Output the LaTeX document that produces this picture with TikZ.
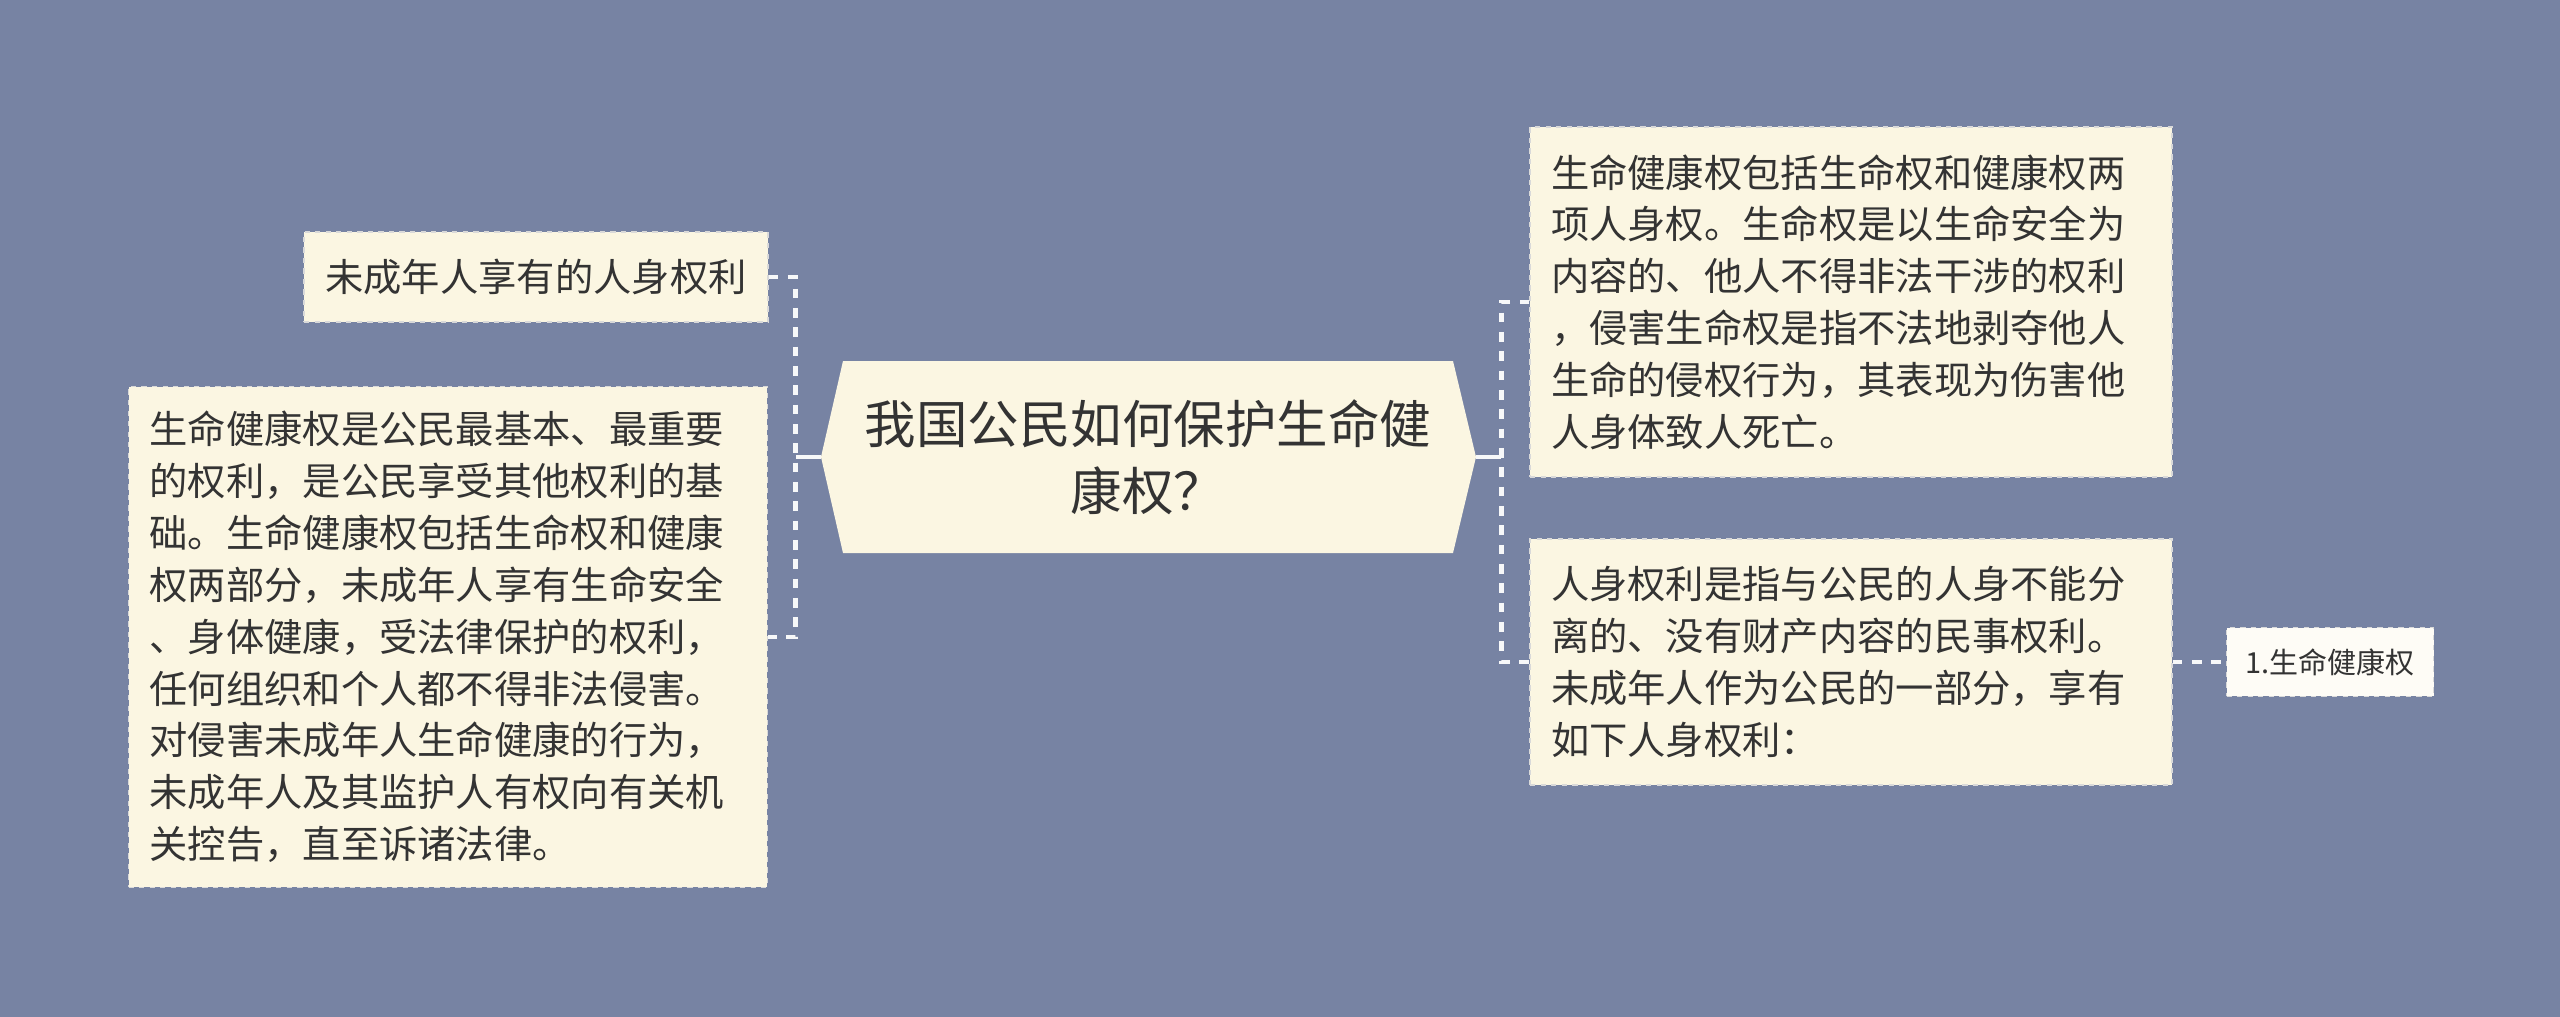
\documentclass[tikz,border=0pt]{standalone}
\usepackage{fontspec}
\setmainfont{Noto Sans CJK SC}
\usetikzlibrary{calc}
\definecolor{bgblue}{HTML}{7783A3}
\definecolor{cream}{HTML}{FBF6E2}
\definecolor{ink}{HTML}{333333}
\tikzset{
  topic/.style={fill=cream,draw=gray!30,dashed,line width=0.8pt,text=ink,align=left,
    inner xsep=0.42cm,inner ysep=0pt,font=\fontsize{21.8}{29.5}\selectfont},
  leaf/.style={topic,fill=white!70!cream,align=center,inner xsep=0.2cm,font=\fontsize{16.5}{20}\selectfont},
  dashlink/.style={draw=white!94!bgblue,line width=2.6pt,dash pattern=on 5.5pt off 5.5pt},
  rootlink/.style={draw=white!94!bgblue,line width=2.6pt},
}

\begin{document}
\begin{tikzpicture}[x=0.02cm,y=-0.02cm]%
  \fill[bgblue] (0,0) rectangle (2560,1017);%
  \useasboundingbox (0,0) rectangle (2560,1017);%
  \coordinate (rootL) at (821,457);%
  \coordinate (rootR) at (1476,457);%
  \fill[cream] (843,361) -- (1453,361) -- (rootR) -- (1453,553) -- (843,553) -- (rootL) -- cycle;%
  \node[text=ink,align=center,font=\fontsize{29.3}{38}\selectfont] (root) at (1148,457)
    {我国公民如何保护生命健\\康权？};%
  \node[topic,align=center,minimum width=9.28cm,minimum height=1.8cm] (minor) at (536,277)
    {未成年人享有的人身权利};%
  \node[topic,text width=11.94cm,minimum height=10.02cm] (basic) at (448,637)
    {生命健康权是公民最基本、最重要\\的权利，是公民享受其他权利的基\\础。生命健康权包括生命权和健康\\权两部分，未成年人享有生命安全\\、身体健康，受法律保护的权利，\\任何组织和个人都不得非法侵害。\\对侵害未成年人生命健康的行为，\\未成年人及其监护人有权向有关机\\关控告，直至诉诸法律。};%
  \node[topic,text width=12.0cm,minimum height=7.0cm] (lifehealth) at (1851,302)
    {生命健康权包括生命权和健康权两\\项人身权。生命权是以生命安全为\\内容的、他人不得非法干涉的权利\\，侵害生命权是指不法地剥夺他人\\生命的侵权行为，其表现为伤害他\\人身体致人死亡。};%
  \node[topic,text width=12.0cm,minimum height=4.92cm] (personal) at (1851,662)
    {人身权利是指与公民的人身不能分\\离的、没有财产内容的民事权利。\\未成年人作为公民的一部分，享有\\如下人身权利：};%
  \node[leaf,minimum width=4.14cm,minimum height=1.38cm] (item) at (2330,662) {1.生命健康权};%
  \draw[dashlink] (minor.east) -- ++(27,0) coordinate (lb) |- (basic.east);%
  \draw[rootlink] (rootL) -- (rootL -| lb);%
  \draw[dashlink] (lifehealth.west) -- ++(-28,0) coordinate (rb) |- (personal.west);%
  \draw[rootlink] (rootR) -- (rootR -| rb);%
  \draw[dashlink] (personal.east) -- (item.west);%
\end{tikzpicture}
\end{document}
